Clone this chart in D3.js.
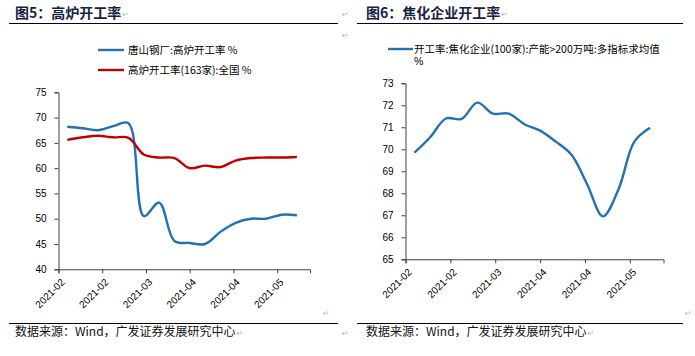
<!DOCTYPE html>
<html><head><meta charset="utf-8">
<script src="https://cdn.jsdelivr.net/npm/d3@7"></script>
<style>
body{margin:0;background:#fff;}
svg{display:block;}
</style></head>
<body>
<svg id="c" width="695" height="356"></svg>
<script>
// ---- data ----
const dates = ["2021-02-05","2021-02-12","2021-02-19","2021-02-26","2021-03-05","2021-03-12","2021-03-19","2021-03-26",
               "2021-04-02","2021-04-09","2021-04-16","2021-04-23","2021-04-30","2021-05-07","2021-05-14","2021-05-21"];
const tangshan = [68.2,67.9,67.5,68.3,68.9,50.5,53.2,45.6,45.2,45.0,47.4,49.2,50.0,50.0,50.8,50.7];
const national = [65.6,66.1,66.4,66.1,66.0,62.7,62.1,62.0,60.0,60.5,60.2,61.5,62.0,62.1,62.1,62.2];
const coking   = [69.85,70.55,71.4,71.38,72.12,71.62,71.62,71.14,70.85,70.35,69.75,68.4,66.95,68.2,70.35,70.98];
const tickDates = ["2021-02-01","2021-02-21","2021-03-13","2021-04-02","2021-04-22","2021-05-12"];
const leftTicks = [40,45,50,55,60,65,70,75];
const rightTicks = [65,66,67,68,69,70,71,72,73];
const legendLeft = ["唐山钢厂:高炉开工率 %","高炉开工率(163家):全国 %"];
const legendRight = ["开工率:焦化企业(100家):产能>200万吨:多指标求均值","%"];
const titles = ["图5：高炉开工率","图6：焦化企业开工率"];
const sourceText = "数据来源：Wind，广发证券发展研究中心";

const parse = d3.utcParse("%Y-%m-%d");
const D = dates.map(parse);
const T = tickDates.map(parse);
const fmt = d3.utcFormat("%Y-%m");
const BLUE = "#2271b2", RED = "#c00000", AX = "#404040";
const CJK = "'Noto Sans CJK SC', 'Noto Sans', sans-serif";
const LAT = "'Liberation Sans', Arial, sans-serif";

const svg = d3.select("#c");

function mark(x, y){
  svg.append("text").attr("x", x).attr("y", y).attr("font-family","DejaVu Sans").attr("font-size",8)
     .attr("fill","#b4b4b4").text("↵");
}

function header(x0, x1, title, tx){
  const t = svg.append("text").attr("x", tx).attr("y", 18).attr("font-family", CJK)
     .attr("font-weight", "bold").attr("font-size", 14).attr("fill", "#16233f").text(title);
  mark(tx + t.node().getComputedTextLength() + 1, 17);
  svg.append("line").attr("x1", x0).attr("x2", x1).attr("y1", 23.5).attr("y2", 23.5)
     .attr("stroke", "#000").attr("stroke-width", 1.2);
  svg.append("line").attr("x1", x0).attr("x2", x1).attr("y1", 323.5).attr("y2", 323.5)
     .attr("stroke", "#000").attr("stroke-width", 1.2);
  const s = svg.append("text").attr("x", tx).attr("y", 336).attr("font-family", CJK)
     .attr("font-size", 12).attr("fill", "#111").text(sourceText);
  mark(tx + s.node().getComputedTextLength() + 1, 336);
}
header(9, 338, titles[0], 15);
header(357, 683, titles[1], 366);

// other paragraph marks
[[342,17],[342,38],[323,316],[342,336],[685,316]].forEach(d=>mark(d[0], d[1]));

function chart(opts){
  const x = d3.scaleUtc().domain([parse("2021-02-01"), parse("2021-05-27")]).range([opts.x0, opts.x1]);
  const y = d3.scaleLinear().domain(opts.yDom).range([opts.yB, opts.yT]);
  const gx = svg.append("g").attr("transform", `translate(0,${opts.yB})`)
     .call(d3.axisBottom(x).tickValues(T).tickFormat(fmt).tickSizeOuter(0).tickSize(4));
  gx.select(".domain").attr("stroke", AX);
  gx.selectAll(".tick line").attr("stroke", AX);
  gx.selectAll(".tick text").attr("font-family", LAT).attr("font-size", 10).attr("fill", "#000")
     .attr("text-anchor", "end").attr("dy", "0.35em")
     .attr("transform", "translate(4,11) rotate(-45)").attr("y", 0).attr("x", 0);
  const gy = svg.append("g").attr("transform", `translate(${opts.x0},0)`)
     .call(d3.axisLeft(y).tickValues(opts.ticks).tickSizeOuter(0).tickSize(4).tickPadding(8));
  gy.select(".domain").attr("stroke", AX);
  gy.selectAll(".tick line").attr("stroke", AX);
  gy.selectAll(".tick text").attr("font-family", LAT).attr("font-size", 10).attr("fill", "#000");
  const line = d3.line().x((d,i)=>x(D[i])).y(d=>y(d)).curve(d3.curveCatmullRom.alpha(0.5));
  opts.series.forEach(s=>{
    svg.append("path").datum(s.values).attr("d", line).attr("fill","none")
       .attr("stroke", s.color).attr("stroke-width", 2.4).attr("stroke-linejoin","round");
  });
}

chart({x0:58.5, x1:310, yB:269.3, yT:92.3, yDom:[40,75], ticks:leftTicks,
       series:[{values:tangshan,color:BLUE},{values:national,color:RED}]});
chart({x0:405.5, x1:663.5, yB:259.3, yT:83.3, yDom:[65,73], ticks:rightTicks,
       series:[{values:coking,color:BLUE}]});

// legends
const lg = [{x:98, y:50, c:BLUE, t:legendLeft[0]},{x:98, y:70, c:RED, t:legendLeft[1]}];
lg.forEach(l=>{
  svg.append("line").attr("x1", l.x).attr("x2", l.x+26).attr("y1", l.y).attr("y2", l.y)
     .attr("stroke", l.c).attr("stroke-width", 2.4);
  svg.append("text").attr("x", l.x+30).attr("y", l.y+3.7).attr("font-family", CJK)
     .attr("font-size", 10.5).attr("fill", "#000").text(l.t);
});
svg.append("line").attr("x1", 388).attr("x2", 413).attr("y1", 49).attr("y2", 49)
   .attr("stroke", BLUE).attr("stroke-width", 2.4);
svg.append("text").attr("x", 414).attr("y", 52.7).attr("font-family", CJK)
   .attr("font-size", 10.5).attr("fill", "#000").text(legendRight[0]);
svg.append("text").attr("x", 414).attr("y", 64.5).attr("font-family", LAT)
   .attr("font-size", 10.5).attr("fill", "#000").text(legendRight[1]);
</script>
</body></html>
